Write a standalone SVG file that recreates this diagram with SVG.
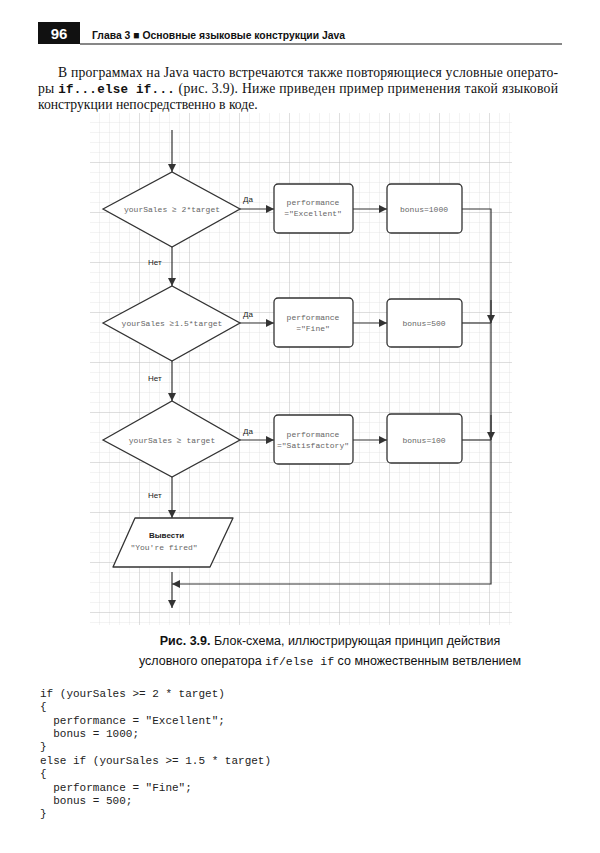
<svg xmlns="http://www.w3.org/2000/svg" width="600" height="853" viewBox="0 0 600 853">
<defs>
<pattern id="g" width="10" height="10" patternUnits="userSpaceOnUse" x="90" y="113"><path d="M10 0V10H0" fill="none" stroke="#d6d6d6" stroke-width="0.6"/></pattern>
<pattern id="G" width="50" height="50" patternUnits="userSpaceOnUse" x="90" y="113"><path d="M50 0V50H0" fill="none" stroke="#bcbcbc" stroke-width="0.8"/></pattern>
<marker id="a" viewBox="0 0 10 10" refX="10" refY="5" markerWidth="8" markerHeight="8" orient="auto" markerUnits="userSpaceOnUse"><path d="M0 0L10 5L0 10z" fill="#333"/></marker>
</defs>
<style>
.s{fill:#fff;stroke:#333;stroke-width:1.3}
.m{font-family:"Liberation Mono",monospace;font-size:8px;fill:#666;text-anchor:middle}
.l{font-family:"Liberation Sans",sans-serif;font-size:8px;fill:#222}
.c{stroke:#333;stroke-width:1.2;fill:none}
.b{font-family:"Liberation Serif",serif;font-size:13.7px;fill:#111}
.code{font-family:"Liberation Mono",monospace;font-size:11px;fill:#222}
</style>
<rect width="600" height="853" fill="#fff"/>
<rect x="38" y="22" width="42" height="22" fill="#111"/>
<text x="59" y="39" font-family="Liberation Sans,sans-serif" font-weight="bold" font-size="15" fill="#fff" text-anchor="middle">96</text>
<text x="92" y="39" font-family="Liberation Sans,sans-serif" font-weight="bold" font-size="11" fill="#111" textLength="253" lengthAdjust="spacingAndGlyphs">Глава 3 ■ Основные языковые конструкции Java</text>
<line x1="80" y1="44" x2="562" y2="44" stroke="#111" stroke-width="1.2"/>
<text class="b" x="58" y="77" textLength="500">В программах на Java часто встречаются также повторяющиеся условные операто-</text>
<text class="b" x="38" y="93" textLength="520">ры <tspan font-family="Liberation Mono,monospace" font-weight="bold" font-size="12.5">if...else if...</tspan> (рис. 3.9). Ниже приведен пример применения такой языковой</text>
<text class="b" x="38" y="109">конструкции непосредственно в коде.</text>
<rect x="90" y="113" width="422" height="512" fill="url(#g)"/>
<rect x="90" y="113" width="422" height="512" fill="url(#G)"/>
<g id="connectors">
<line class="c" x1="172" y1="130" x2="172" y2="172" marker-end="url(#a)"/>
<line class="c" x1="240" y1="209" x2="274" y2="209" marker-end="url(#a)"/>
<line class="c" x1="353" y1="209" x2="387" y2="209" marker-end="url(#a)"/>
<polyline class="c" points="462,209 491,209 491,584 172,584" marker-end="url(#a)"/>
<line class="c" x1="491" y1="300" x2="491" y2="323" marker-end="url(#a)"/>
<line class="c" x1="491" y1="415" x2="491" y2="440" marker-end="url(#a)"/>
<line class="c" x1="172" y1="247" x2="172" y2="286" marker-end="url(#a)"/>
<line class="c" x1="240" y1="323" x2="274" y2="323" marker-end="url(#a)"/>
<line class="c" x1="353" y1="323" x2="387" y2="323" marker-end="url(#a)"/>
<line class="c" x1="462" y1="323" x2="491" y2="323"/>
<line class="c" x1="172" y1="361" x2="172" y2="401" marker-end="url(#a)"/>
<line class="c" x1="240" y1="440" x2="274" y2="440" marker-end="url(#a)"/>
<line class="c" x1="353" y1="440" x2="387" y2="440" marker-end="url(#a)"/>
<line class="c" x1="462" y1="440" x2="491" y2="440"/>
<line class="c" x1="172" y1="477" x2="172" y2="518" marker-end="url(#a)"/>
<line class="c" x1="172" y1="572" x2="172" y2="608" marker-end="url(#a)"/>
<text class="l" x="243" y="202">Да</text>
<text class="l" x="243" y="317">Да</text>
<text class="l" x="243" y="434">Да</text>
<text class="l" x="148" y="265">Нет</text>
<text class="l" x="148" y="381">Нет</text>
<text class="l" x="148" y="498">Нет</text>
</g>
<g id="d1"><polygon class="s" points="103,209 172,172 240,209 172,247"/><text class="m" x="172" y="212">yourSales ≥ 2*target</text></g>
<g id="p1"><rect class="s" x="274" y="184" width="79" height="49" rx="4"/><text class="m" x="313" y="205">performance</text><text class="m" x="313" y="216">="Excellent"</text></g>
<g id="b1"><rect class="s" x="387" y="184" width="75" height="49" rx="4"/><text class="m" x="424" y="212">bonus=1000</text></g>
<g id="d2"><polygon class="s" points="103,323 172,286 240,323 172,361"/><text class="m" x="172" y="326">yourSales ≥1.5*target</text></g>
<g id="p2"><rect class="s" x="274" y="298" width="79" height="49" rx="4"/><text class="m" x="313" y="320">performance</text><text class="m" x="313" y="331">="Fine"</text></g>
<g id="b2"><rect class="s" x="387" y="299" width="75" height="48" rx="4"/><text class="m" x="424" y="326">bonus=500</text></g>
<g id="d3"><polygon class="s" points="103,440 172,401 240,440 172,477"/><text class="m" x="172" y="443">yourSales ≥ target</text></g>
<g id="p3"><rect class="s" x="274" y="415" width="79" height="49" rx="4"/><text class="m" x="313" y="437">performance</text><text class="m" x="313" y="448">="Satisfactory"</text></g>
<g id="b3"><rect class="s" x="387" y="414" width="75" height="49" rx="4"/><text class="m" x="424" y="443">bonus=100</text></g>
<g id="out"><polygon class="s" points="135,518 233,518 210,567 113,567" stroke-linejoin="round"/><text class="l" x="149" y="538" font-weight="bold">Вывести</text><text class="m" x="164" y="550">"You're fired"</text></g>
<text x="330" y="645" text-anchor="middle" font-family="Liberation Sans,sans-serif" font-size="12.5" fill="#111"><tspan font-weight="bold">Рис. 3.9.</tspan> Блок-схема, иллюстрирующая принцип действия</text>
<text x="330" y="665" text-anchor="middle" font-family="Liberation Sans,sans-serif" font-size="12.5" fill="#111">условного оператора <tspan font-family="Liberation Mono,monospace" font-size="11.5">if/else if</tspan> со множественным ветвлением</text>
<text class="code" x="40" y="697">if (yourSales &gt;= 2 * target)</text>
<text class="code" x="40" y="710">{</text>
<text class="code" x="40" y="724" xml:space="preserve">  performance = "Excellent";</text>
<text class="code" x="40" y="737" xml:space="preserve">  bonus = 1000;</text>
<text class="code" x="40" y="750">}</text>
<text class="code" x="40" y="764">else if (yourSales &gt;= 1.5 * target)</text>
<text class="code" x="40" y="777">{</text>
<text class="code" x="40" y="791" xml:space="preserve">  performance = "Fine";</text>
<text class="code" x="40" y="804" xml:space="preserve">  bonus = 500;</text>
<text class="code" x="40" y="817">}</text>
</svg>
